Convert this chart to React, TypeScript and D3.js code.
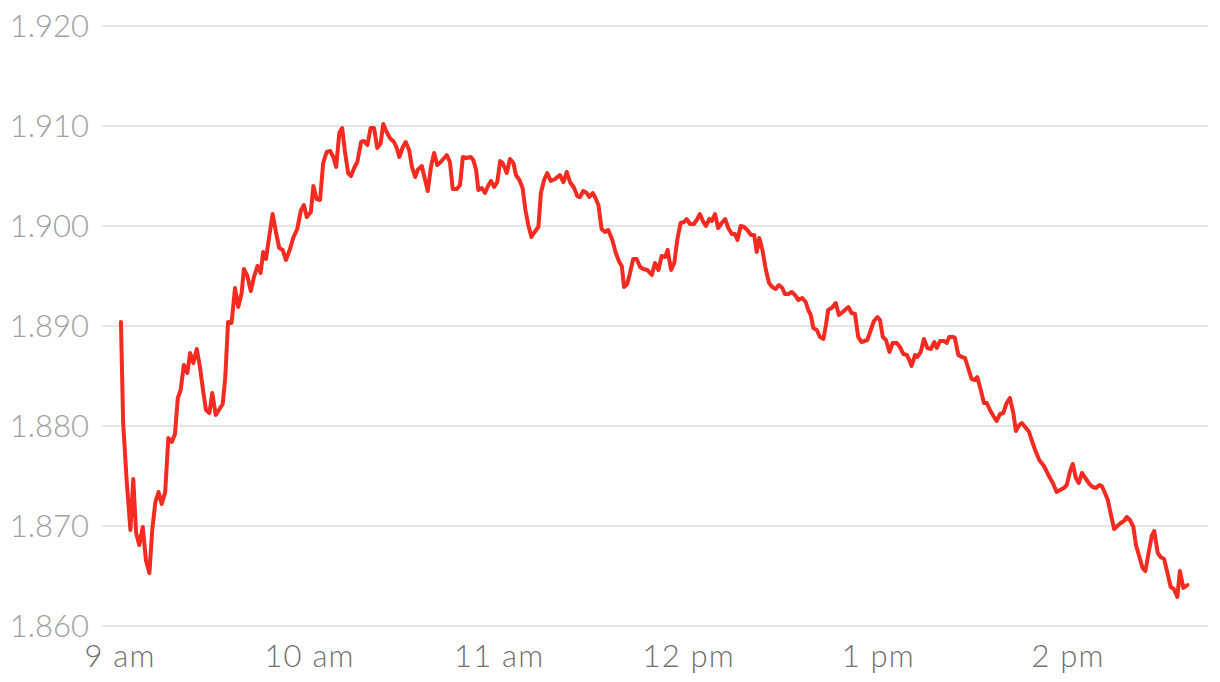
import React from "react";
import * as d3 from "d3";

// minutes after 9:00 am
const minutes = [
  0.3, 1.0, 2.1, 3.3, 4.2, 5.1, 6.1, 7.2, 8.2, 9.3, 10.2, 11.2, 12.2, 13.2, 14.3, 15.3, 16.4, 17.4, 18.3, 19.2,
  20.2, 21.3, 22.2, 23.2, 24.3, 25.3, 26.4, 27.2, 28.3, 29.2, 30.3, 31.3, 32.5, 33.3, 34.2, 35.3, 36.4, 37.4, 38.5,
  39.2, 40.3, 41.4, 42.4, 43.5, 44.5, 45.3, 46.2, 47.2, 48.3, 49.4, 50.4, 51.5, 52.5, 53.8, 54.8, 56.1, 57.2, 58.2, 59.1,
  60.4, 61.2, 62.2, 63.3, 64.3, 65.4, 66.5, 67.5, 68.4, 69.4, 70.3, 71.2, 72.2, 73.1, 74.1, 75.1, 76.3, 77.2, 78.3, 79.3,
  80.4, 81.4, 82.5, 83.3, 84.4, 85.4, 86.7, 87.6, 88.4, 89.5, 90.4, 91.5, 92.4, 93.4, 94.2, 95.5, 96.4, 97.4, 98.4, 99.4,
  100.4, 101.5, 103.4, 104.4, 105.3, 106.6, 107.6, 108.5, 109.7, 111.0, 111.8, 112.7, 113.4, 114.5, 115.5, 116.6, 117.4, 118.4, 119.4,
  120.3, 121.1, 122.4, 123.4, 124.5, 125.3, 126.4, 127.4, 128.3, 129.2, 130.2, 131.0, 132.4, 133.2, 134.2, 135.2, 136.3, 137.7, 139.2,
  140.3, 141.4, 142.4, 143.7, 144.7, 145.6, 146.6, 147.7, 148.5, 149.6, 150.3, 151.4, 152.4, 153.5, 154.5, 155.8, 156.9, 158.0, 158.8, 159.5,
  160.5, 161.4, 162.4, 163.5, 164.6, 165.6, 166.9, 168.3, 169.3, 170.4, 171.4, 172.5, 173.3, 174.4, 175.4, 176.4, 177.4, 178.5, 179.3,
  180.4, 181.6, 182.7, 183.5, 184.6, 185.4, 186.5, 187.3, 188.3, 189.3, 190.4, 191.5, 192.5, 193.6, 194.6, 195.4, 196.4, 197.5, 198.5, 199.7,
  200.7, 201.5, 202.3, 203.3, 204.4, 205.4, 206.4, 207.5, 208.5, 209.6, 210.4, 211.5, 212.6, 213.6, 214.7, 215.9, 217.0, 217.8, 218.6, 219.4,
  220.5, 221.5, 222.6, 223.4, 224.1, 225.2, 226.5, 227.5, 228.7, 230.5, 231.5, 232.6, 233.6, 234.7, 236.5, 237.6, 238.6, 239.7,
  240.5, 241.4, 242.4, 243.5, 244.5, 245.8, 246.8, 247.9, 249.0, 249.8, 250.5, 251.6, 252.3, 253.4, 254.4, 255.5, 256.6, 257.7, 258.5, 259.5,
  260.8, 261.6, 262.4, 263.7, 264.2, 265.3, 266.4, 267.4, 268.4, 269.5, 270.6, 271.3, 272.4, 273.4, 274.3, 275.3, 276.4, 277.4, 278.5, 279.5,
  280.6, 281.6, 282.7, 283.5, 284.6, 285.4, 286.7, 287.7, 288.5, 289.6, 290.9, 292.4, 293.8, 295.2, 296.4, 297.5, 298.7, 299.6,
  300.6, 301.5, 302.5, 303.4, 304.4, 305.7, 306.8, 307.8, 308.9, 309.9, 310.7, 311.7, 312.6, 313.6, 314.6, 315.6, 316.7, 317.7, 318.6, 319.6,
  320.7, 321.5, 322.6, 323.6, 324.5, 325.5, 326.5, 327.3, 328.4, 329.3, 330.4, 331.4, 332.5, 333.5, 334.6, 335.4, 336.5, 337.8,
];

const prices = [
  1.8904, 1.8803, 1.8746, 1.8696, 1.8747, 1.8693, 1.8681, 1.8699, 1.8666, 1.8653, 1.8696, 1.8724, 1.8734, 1.8722, 1.8734, 1.8788, 1.8784, 1.8792, 1.8828, 1.8836,
  1.8861, 1.8853, 1.8873, 1.8863, 1.8877, 1.8859, 1.8833, 1.8816, 1.8813, 1.8833, 1.8811, 1.8816, 1.8822, 1.8848, 1.8904, 1.8903, 1.8938, 1.8919, 1.8933,
  1.8957, 1.8950, 1.8935, 1.8949, 1.8960, 1.8953, 1.8974, 1.8967, 1.8989, 1.9012, 1.8993, 1.8978, 1.8976, 1.8966, 1.8977, 1.8988, 1.8997, 1.9015, 1.9021, 1.9009,
  1.9014, 1.9040, 1.9027, 1.9026, 1.9063, 1.9074, 1.9075, 1.9069, 1.9059, 1.9093, 1.9098, 1.9074, 1.9053, 1.9050, 1.9058, 1.9064, 1.9084, 1.9085, 1.9081, 1.9098,
  1.9098, 1.9078, 1.9083, 1.9102, 1.9094, 1.9088, 1.9084, 1.9078, 1.9069, 1.9079, 1.9084, 1.9076, 1.9059, 1.9049, 1.9056, 1.9060, 1.9048, 1.9035, 1.9059, 1.9073,
  1.9061, 1.9064, 1.9071, 1.9064, 1.9037, 1.9037, 1.9041, 1.9069, 1.9068, 1.9069, 1.9066, 1.9056, 1.9036, 1.9038, 1.9033, 1.9041, 1.9045, 1.9039, 1.9044,
  1.9065, 1.9063, 1.9053, 1.9067, 1.9063, 1.9051, 1.9046, 1.9038, 1.9016, 1.9001, 1.8989, 1.8993, 1.8999, 1.9033, 1.9046, 1.9053, 1.9045, 1.9047, 1.9051,
  1.9044, 1.9054, 1.9044, 1.9038, 1.9030, 1.9029, 1.9035, 1.9033, 1.9029, 1.9033, 1.9029, 1.9021, 1.8997, 1.8994, 1.8996, 1.8986, 1.8973, 1.8964, 1.8960, 1.8939,
  1.8942, 1.8953, 1.8967, 1.8967, 1.8959, 1.8957, 1.8956, 1.8951, 1.8963, 1.8956, 1.8970, 1.8969, 1.8976, 1.8956, 1.8963, 1.8987, 1.9003, 1.9004, 1.9007,
  1.9002, 1.9002, 1.9007, 1.9012, 1.9004, 1.9000, 1.9007, 1.9005, 1.9012, 1.8998, 1.9003, 1.9007, 1.8998, 1.8992, 1.8992, 1.8986, 1.9000, 1.8999, 1.8996, 1.8991,
  1.8991, 1.8974, 1.8988, 1.8976, 1.8956, 1.8943, 1.8939, 1.8937, 1.8941, 1.8938, 1.8932, 1.8932, 1.8934, 1.8931, 1.8926, 1.8928, 1.8924, 1.8916, 1.8911, 1.8898,
  1.8896, 1.8889, 1.8887, 1.8901, 1.8916, 1.8918, 1.8923, 1.8911, 1.8914, 1.8919, 1.8913, 1.8912, 1.8889, 1.8884, 1.8886, 1.8896, 1.8905, 1.8909,
  1.8906, 1.8889, 1.8886, 1.8874, 1.8883, 1.8883, 1.8879, 1.8872, 1.8871, 1.8866, 1.8860, 1.8871, 1.8869, 1.8874, 1.8887, 1.8878, 1.8877, 1.8884, 1.8878, 1.8885,
  1.8885, 1.8883, 1.8889, 1.8889, 1.8888, 1.8871, 1.8869, 1.8868, 1.8858, 1.8847, 1.8846, 1.8849, 1.8836, 1.8823, 1.8823, 1.8816, 1.8810, 1.8805, 1.8812, 1.8813,
  1.8823, 1.8828, 1.8813, 1.8795, 1.8801, 1.8803, 1.8798, 1.8794, 1.8786, 1.8776, 1.8766, 1.8760, 1.8751, 1.8743, 1.8734, 1.8736, 1.8738, 1.8741,
  1.8754, 1.8762, 1.8748, 1.8743, 1.8753, 1.8747, 1.8742, 1.8739, 1.8738, 1.8741, 1.8740, 1.8733, 1.8726, 1.8711, 1.8697, 1.8700, 1.8703, 1.8705, 1.8709, 1.8706,
  1.8699, 1.8681, 1.8669, 1.8658, 1.8655, 1.8673, 1.8690, 1.8695, 1.8673, 1.8669, 1.8667, 1.8654, 1.8639, 1.8637, 1.8629, 1.8655, 1.8638, 1.8641,
];

const yTicks = [1.86, 1.87, 1.88, 1.89, 1.9, 1.91, 1.92];
const xTickMinutes = [0, 60, 120, 180, 240, 300];
const xTickLabels = ["9 am", "10 am", "11 am", "12 pm", "1 pm", "2 pm"];

const W = 1220;
const H = 682;
const FONT = "Lato, 'Open Sans', sans-serif";

export default function App() {
  const x = d3.scaleLinear().domain([0, 300]).range([120, 1068]);
  const y = d3.scaleLinear().domain([1.86, 1.92]).range([626, 26]);
  const data = minutes.map((m, i) => [m, prices[i]] as [number, number]);
  const line = d3
    .line<[number, number]>()
    .x((d) => x(d[0]))
    .y((d) => y(d[1]));

  return (
    <svg
      width={W}
      height={H}
      style={{ position: "absolute", left: 0, top: 0, background: "#fff" }}
    >
      {yTicks.map((t) => (
        <g key={t}>
          <line x1={102} x2={1208} y1={y(t)} y2={y(t)} stroke="#e6e6e6" strokeWidth={2} />
          <text
            x={89}
            y={y(t)}
            dy="0.36em"
            textAnchor="end"
            fontFamily={FONT}
            fontWeight={300}
            fontSize={31}
            fill="#a0a0a0"
          >
            {d3.format(".3f")(t)}
          </text>
        </g>
      ))}
      {xTickMinutes.map((m, i) => (
        <text
          key={m}
          x={x(m)}
          y={667}
          textAnchor="middle"
          fontFamily={FONT}
          fontWeight={300}
          fontSize={31}
          letterSpacing={1.2}
          fill="#707070"
        >
          {xTickLabels[i]}
        </text>
      ))}
      <path
        d={line(data) || ""}
        fill="none"
        stroke="#f52a20"
        strokeWidth={4}
        strokeLinejoin="round"
        strokeLinecap="round"
      />
    </svg>
  );
}
